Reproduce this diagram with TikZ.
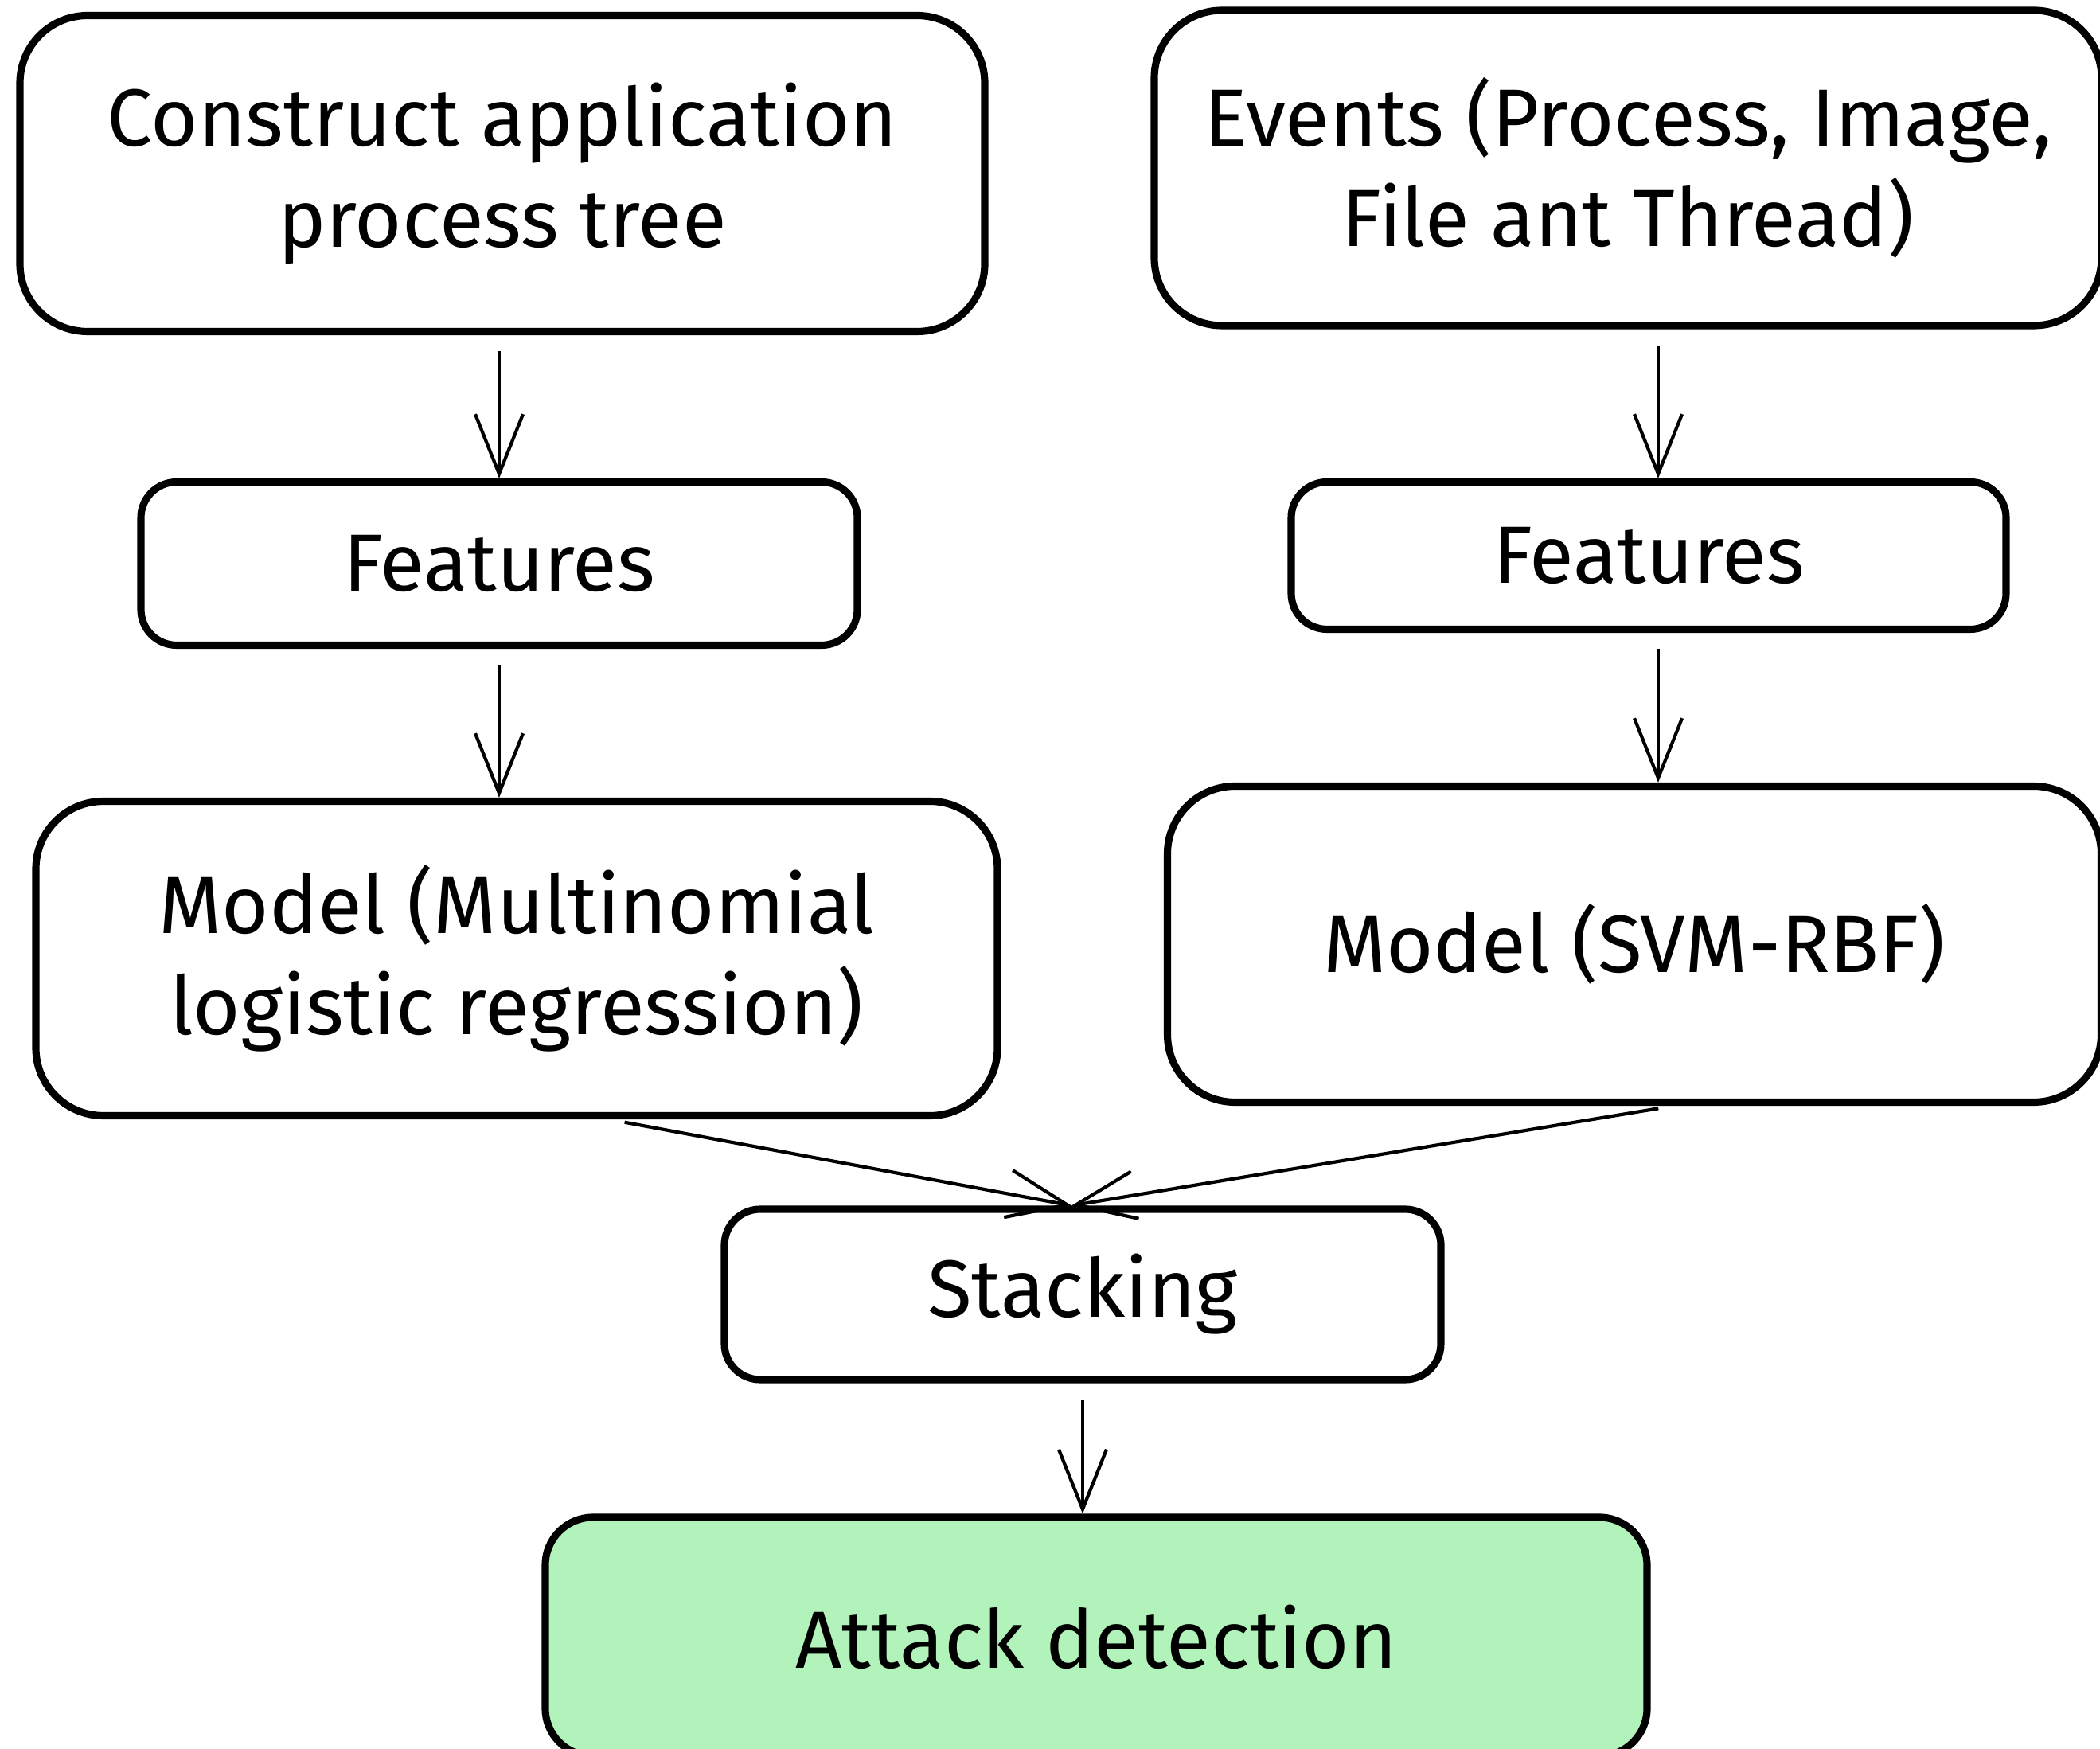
\documentclass[tikz,border=0pt]{standalone}
\usepackage{fontspec}
\setmainfont{Fira Sans}
\usetikzlibrary{arrows.meta}
\definecolor{detectgreen}{HTML}{B2F2BB}

\begin{document}
\begin{tikzpicture}[
    every node/.style={font=\fontsize{29}{36}\selectfont, align=center},
    box/.style={draw, line width=2.6pt, rounded corners=0.45cm},
    bigbox/.style={box, rounded corners=0.85cm},
    flow/.style={line width=1.2pt, -{Straight Barb[length=7.5mm,width=6mm]}, shorten <=2mm}
  ]
  \useasboundingbox (0,0) rectangle (26.38,21.96);
  \draw
    (6.31,19.78) node[bigbox, minimum width=12.12cm, minimum height=3.97cm] (cons) {Construct application\\process tree}
    (20.45,19.85) node[bigbox, minimum width=11.9cm, minimum height=3.96cm] (events) {Events (Process, Image,\\File ant Thread)}
    (6.27,14.88) node[box, minimum width=9cm, minimum height=2.05cm] (featL) {Features}
    (20.71,14.98) node[box, minimum width=8.98cm, minimum height=1.85cm] (featR) {Features}
    (6.49,9.92) node[bigbox, minimum width=12.08cm, minimum height=3.95cm] (modelL) {Model (Multinomial\\logistic regression)}
    (20.53,10.10) node[bigbox, minimum width=11.73cm, minimum height=3.97cm] (modelR) {Model (SVM-RBF)}
    (13.60,5.70) node[box, minimum width=9cm, minimum height=2.14cm] (stack) {Stacking}
    (13.77,1.40) node[box, rounded corners=0.6cm, fill=detectgreen, minimum width=13.84cm, minimum height=3cm] (detect) {Attack detection};
  \begin{scope}[flow]
    \draw (featL.north |- cons.south) to (featL.north);
    \draw (featL.south) to (featL.south |- modelL.north);
    \draw ([xshift=1.2mm]featR.north |- events.south) to ([xshift=1.2mm]featR.north);
    \draw ([xshift=1.2mm]featR.south) to ([xshift=1.2mm]featR.south |- modelR.north);
    \draw ([xshift=11.6mm]modelL.south) to ([xshift=-1.4mm]stack.north);
    \draw ([xshift=5mm]modelR.south) to ([xshift=-1.4mm]stack.north);
    \draw (stack.south) to (stack.south |- detect.north);
  \end{scope}
\end{tikzpicture}
\end{document}
